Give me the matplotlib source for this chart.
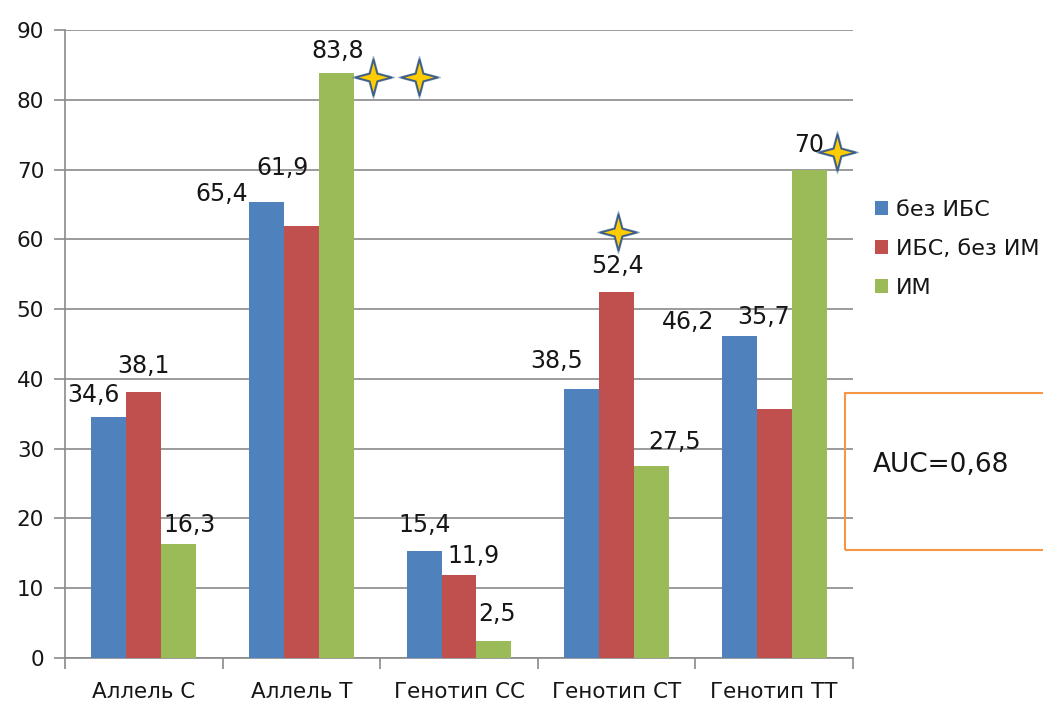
import matplotlib
matplotlib.use("Agg")
import matplotlib.pyplot as plt
import numpy as np
from matplotlib.path import Path
from matplotlib.patches import Rectangle

# Chart data
categories = ["Аллель С", "Аллель Т", "Генотип СС", "Генотип СТ", "Генотип ТТ"]
series_names = ["без ИБС", "ИБС, без ИМ", "ИМ"]
bez_ibs = [34.6, 65.4, 15.4, 38.5, 46.2]
ibs_bez_im = [38.1, 61.9, 11.9, 52.4, 35.7]
im = [16.3, 83.8, 2.5, 27.5, 70]
value_labels = [
    ["34,6", "65,4", "15,4", "38,5", "46,2"],
    ["38,1", "61,9", "11,9", "52,4", "35,7"],
    ["16,3", "83,8", "2,5", "27,5", "70"],
]
auc_text = "AUC=0,68"

# significance stars: (category, series, shift in bar widths, y value)
stars = [(1, 2, 1.04, 83.3), (1, 2, 2.36, 83.3), (3, 1, 0.03, 61.0), (4, 2, 0.8, 72.5)]

colors = ["#4f81bd", "#c0504d", "#9bbb59"]
grid_col = "#8a8a8a"
text_col = "#161616"

# label offsets in pixels (dx, dy) from the top centre of each bar
label_dx = [[-15, -45, 1, -25, -51], [0, -19, 15, 1, -11], [11, 1, 3, 23, 0]]
label_dy = [[22, 8, 26, 28, 14], [26, 58, 19, 26, 92], [19, 22, 27, 24, 25]]

fig = plt.figure(figsize=(10.43, 7.02), dpi=100)
ax = fig.add_axes([65 / 1043, 1 - 658 / 702, 788 / 1043, 628 / 702])

x = np.arange(len(categories))
w = 0.222
all_series = [bez_ibs, ibs_bez_im, im]
for j, vals in enumerate(all_series):
    pos = x + (j - 1) * w
    ax.bar(pos, vals, width=w, color=colors[j], label=series_names[j], zorder=3)
    for i, v in enumerate(vals):
        ax.annotate(value_labels[j][i], (pos[i], v),
                    xytext=(label_dx[j][i], label_dy[j][i]), textcoords="offset pixels",
                    ha="center", va="center", fontsize=17, color=text_col, zorder=5)

# four-pointed star marker
r = 0.21
star_path = Path([(0, 1), (r, r), (1, 0), (r, -r), (0, -1), (-r, -r), (-1, 0), (-r, r), (0, 1)],
                 [Path.MOVETO] + [Path.LINETO] * 7 + [Path.CLOSEPOLY])
for ci, sj, shift, sy in stars:
    sx = ci + (sj - 1) * w + shift * w
    ax.plot(sx, sy, marker=star_path, markersize=30, color="#5b7ea6", alpha=0.55,
            linestyle="none", zorder=6, clip_on=False)
    ax.plot(sx, sy, marker=star_path, markersize=26, markerfacecolor="#ffcc00",
            markeredgecolor="#3f5f86", markeredgewidth=1.3, linestyle="none", zorder=7,
            clip_on=False)

ax.set_xlim(-0.5, len(categories) - 0.5)
ax.set_ylim(0, 90)
ax.set_yticks(np.arange(0, 91, 10))
ax.yaxis.grid(True, color=grid_col, linewidth=1.2, zorder=0)
ax.set_axisbelow(True)

ax.set_xticks(x)
ax.set_xticklabels(categories, fontsize=15.5)
ax.set_xticks(np.arange(-0.5, len(categories)), minor=True)
ax.tick_params(axis="x", which="major", length=0, pad=17, colors=text_col)
ax.tick_params(axis="x", which="minor", length=8, width=1.2, color=grid_col)
ax.tick_params(axis="y", length=8, width=1.2, color=grid_col, labelsize=15.5, pad=7,
               labelcolor=text_col)

for s in ["top", "right"]:
    ax.spines[s].set_visible(False)
for s in ["left", "bottom"]:
    ax.spines[s].set_color(grid_col)
    ax.spines[s].set_linewidth(1.2)

fig.legend(loc="center left", bbox_to_anchor=(866 / 1043, 1 - 249 / 702), frameon=False,
           fontsize=16, handlelength=0.6, handleheight=0.6, handletextpad=0.35,
           labelspacing=0.85, borderaxespad=0, labelcolor=text_col)

# AUC box
fig.patches.append(Rectangle((845 / 1043, 1 - 550 / 702), 0.3, 157 / 702,
                             transform=fig.transFigure, fill=False,
                             edgecolor="#f79646", linewidth=1.5))
fig.text(873 / 1043, 1 - 465 / 702, auc_text, fontsize=19, va="center", ha="left",
         color=text_col)

fig.savefig("out.png", dpi=100)
